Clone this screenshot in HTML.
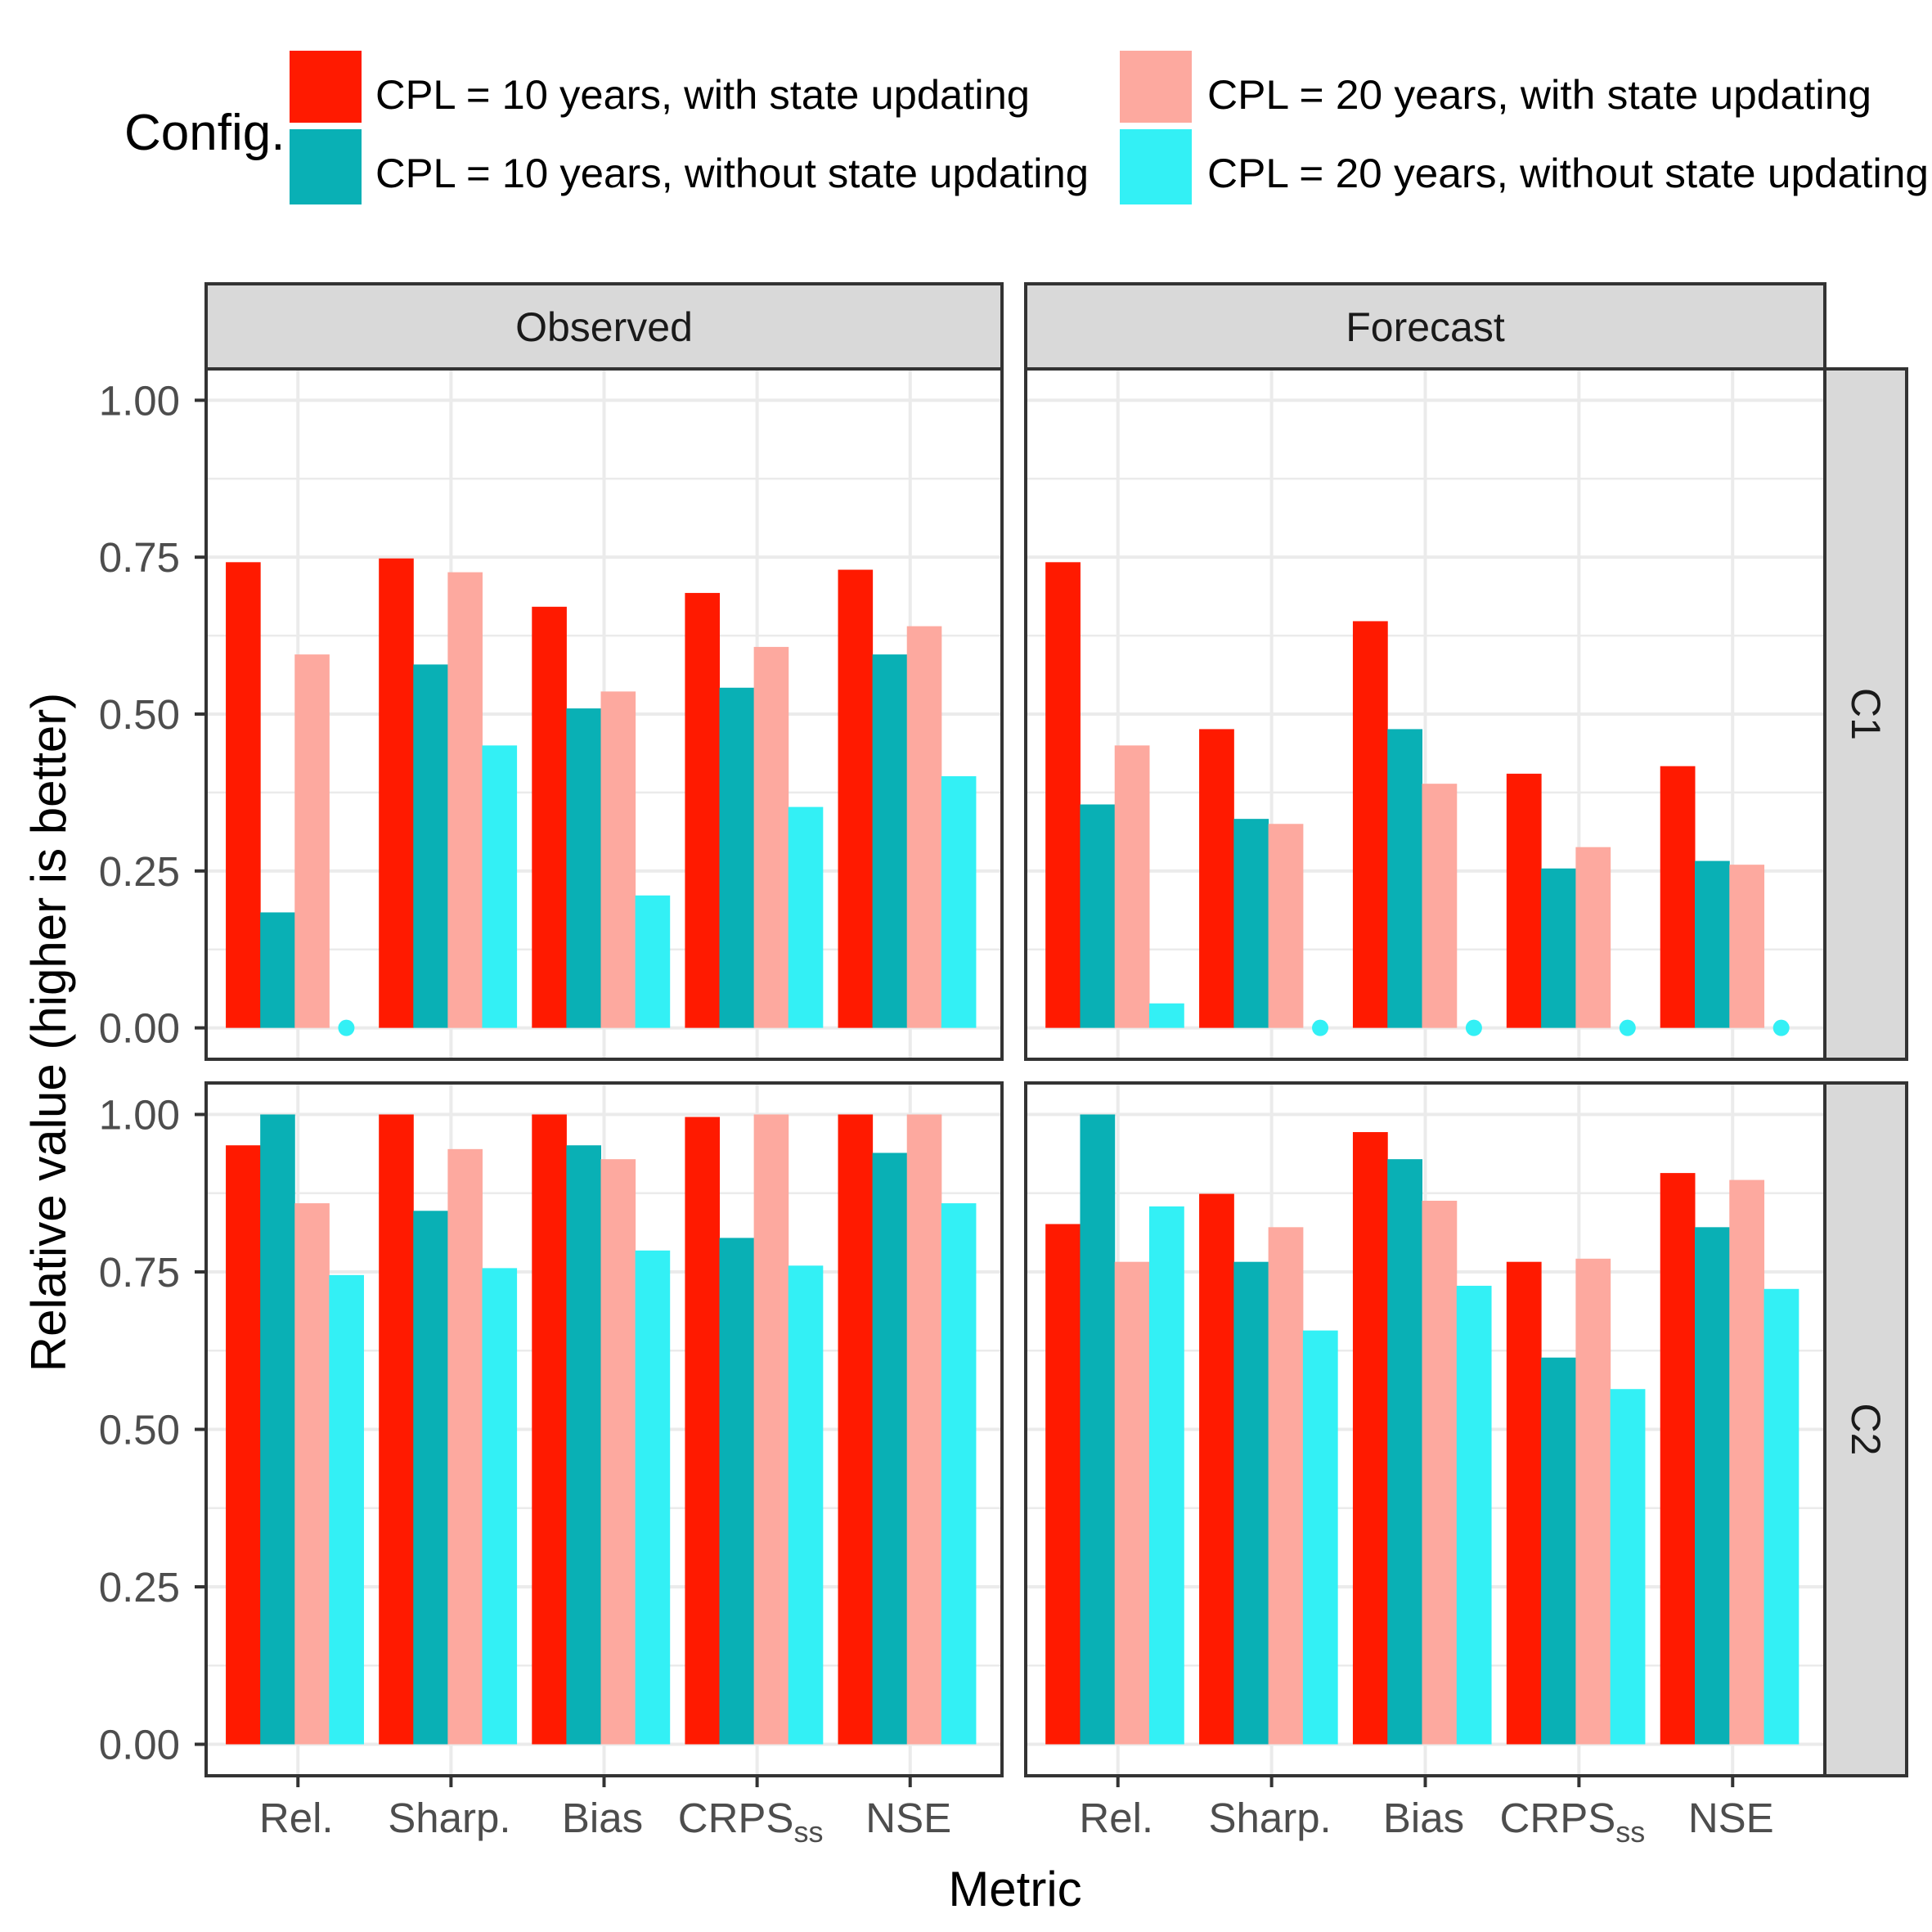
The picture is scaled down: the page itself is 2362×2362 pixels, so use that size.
<!DOCTYPE html>
<html><head><meta charset="utf-8">
<style>html,body{margin:0;padding:0;background:#fff}svg{display:block}text{font-family:"Liberation Sans",sans-serif}</style>
</head><body>
<svg id="chart" xmlns="http://www.w3.org/2000/svg" width="2362" height="2362" viewBox="0 0 2362 2362">
<rect width="2362" height="2362" fill="#fff"/>
<g>
<text x="152" y="183" font-size="62" fill="#000">Config.</text>
<rect x="354" y="62" width="88" height="88" fill="#ff1a00"/>
<rect x="354" y="158" width="88" height="92" fill="#09b0b5"/>
<rect x="1369" y="62" width="88" height="88" fill="#fda99f"/>
<rect x="1369" y="158" width="88" height="92" fill="#33f0f5"/>
<text x="459" y="133" font-size="50" fill="#000" textLength="800" lengthAdjust="spacingAndGlyphs">CPL = 10 years, with state updating</text>
<text x="459" y="229" font-size="50" fill="#000" textLength="872" lengthAdjust="spacingAndGlyphs">CPL = 10 years, without state updating</text>
<text x="1476" y="133" font-size="50" fill="#000" textLength="812" lengthAdjust="spacingAndGlyphs">CPL = 20 years, with state updating</text>
<text x="1476" y="229" font-size="50" fill="#000" textLength="882" lengthAdjust="spacingAndGlyphs">CPL = 20 years, without state updating</text>
</g>
<text transform="translate(80,1262) rotate(-90)" text-anchor="middle" font-size="60" fill="#000">Relative value (higher is better)</text>
<text x="1241" y="2330" text-anchor="middle" font-size="60" fill="#000">Metric</text>
<g id="plots"></g>
</svg>
<script>
const categories = ["Rel.", "Sharp.", "Bias", "CRPS", "NSE"];
const seriesNames = ["CPL10 with", "CPL10 without", "CPL20 with", "CPL20 without"];
const yTicks = [0, 0.25, 0.5, 0.75, 1];
const yTickLabels = ["0.00", "0.25", "0.50", "0.75", "1.00"];
const colNames = ["Observed", "Forecast"];
const rowNames = ["C1", "C2"];
const obsC1_s1 = [0.742, 0.748, 0.671, 0.693, 0.730];
const obsC1_s2 = [0.184, 0.579, 0.509, 0.542, 0.595];
const obsC1_s3 = [0.595, 0.726, 0.536, 0.607, 0.640];
const obsC1_s4 = [0, 0.450, 0.211, 0.352, 0.401];
const fcC1_s1 = [0.742, 0.476, 0.648, 0.405, 0.417];
const fcC1_s2 = [0.356, 0.333, 0.476, 0.254, 0.266];
const fcC1_s3 = [0.450, 0.325, 0.389, 0.288, 0.260];
const fcC1_s4 = [0.039, 0, 0, 0, 0];
const obsC2_s1 = [0.951, 1.0, 1.0, 0.996, 1.0];
const obsC2_s2 = [1.0, 0.847, 0.951, 0.804, 0.939];
const obsC2_s3 = [0.859, 0.945, 0.929, 1.0, 1.0];
const obsC2_s4 = [0.745, 0.756, 0.784, 0.760, 0.859];
const fcC2_s1 = [0.826, 0.874, 0.972, 0.766, 0.907];
const fcC2_s2 = [1.0, 0.766, 0.929, 0.614, 0.821];
const fcC2_s3 = [0.766, 0.821, 0.863, 0.771, 0.896];
const fcC2_s4 = [0.854, 0.657, 0.728, 0.564, 0.723];
const values = [[[obsC1_s1, obsC1_s2, obsC1_s3, obsC1_s4],[fcC1_s1, fcC1_s2, fcC1_s3, fcC1_s4]],
                [[obsC2_s1, obsC2_s2, obsC2_s3, obsC2_s4],[fcC2_s1, fcC2_s2, fcC2_s3, fcC2_s4]]];
const colors = ["#ff1a00", "#09b0b5", "#fda99f", "#33f0f5"];

const NS = "http://www.w3.org/2000/svg";
const root = document.getElementById("plots");
function mk(tag, attrs, parent) {
  const e = document.createElementNS(NS, tag);
  for (const k in attrs) e.setAttribute(k, attrs[k]);
  (parent || root).appendChild(e);
  return e;
}
const panelX = [[252, 1225], [1254, 2231]];
const panelY = [[451, 1295], [1324, 2171]];
function xScale(col, i) { const [a, b] = panelX[col]; return a + (b - a) * (i + 0.6) / 5.2; }
function yScale(row, v) { const [t, b] = panelY[row]; return b - (b - t) * (v + 0.05) / 1.1; }
function bandW(col) { const [a, b] = panelX[col]; return (b - a) / 5.2; }

for (let c = 0; c < 2; c++) {
  const s = mk("rect", {x: panelX[c][0], y: 347, width: panelX[c][1] - panelX[c][0], height: 104, fill: "#d9d9d9", stroke: "#333", "stroke-width": 4});
  
  
  const t = mk("text", {x: (panelX[c][0] + panelX[c][1]) / 2, y: 417, "text-anchor": "middle", "font-size": 50, fill: "#1a1a1a"});
  t.textContent = colNames[c];
  
  
}
for (let r = 0; r < 2; r++) {
  const s = mk("rect", {x: 2231, y: panelY[r][0], width: 100, height: panelY[r][1] - panelY[r][0], fill: "#d9d9d9", stroke: "#333", "stroke-width": 4});
  
  
  const cy = (panelY[r][0] + panelY[r][1]) / 2;
  const t = mk("text", {transform: `translate(2264,${cy}) rotate(90)`, "text-anchor": "middle", "font-size": 50, fill: "#1a1a1a"});
  t.textContent = rowNames[r];
  
  
}

for (let r = 0; r < 2; r++) {
  for (let c = 0; c < 2; c++) {
    const g = mk("g", {});
    
    
    const [x0, x1] = panelX[c], [y0, y1] = panelY[r];
    for (let k = 0; k < yTicks.length - 1; k++) {
      const y = yScale(r, (yTicks[k] + yTicks[k + 1]) / 2);
      const l = mk("line", {x1: x0, x2: x1, y1: y, y2: y, stroke: "#ebebeb", "stroke-width": 2.5}, g);
      
      
    }
    yTicks.forEach(v => {
      const y = yScale(r, v);
      const l = mk("line", {x1: x0, x2: x1, y1: y, y2: y, stroke: "#ebebeb", "stroke-width": 4}, g);
      
      
    });
    categories.forEach((cat, i) => {
      const x = xScale(c, i);
      const l = mk("line", {x1: x, x2: x, y1: y0, y2: y1, stroke: "#ebebeb", "stroke-width": 4}, g);
      
      
    });
    const bw = bandW(c) * 0.9 / 4;
    categories.forEach((cat, i) => {
      const cx = xScale(c, i) - 4;
      for (let s = 0; s < 4; s++) {
        const v = values[r][c][s][i];
        const bx = cx - bw * 2 + s * bw;
        const y0v = yScale(r, 0);
        if (v > 0) {
          const yv = yScale(r, v);
          const b = mk("rect", {x: bx, y: yv, width: bw + 0.5, height: y0v - yv, fill: colors[s]}, g);
          
          
        } else {
          const p = mk("circle", {cx: bx + bw / 2, cy: y0v, r: 10, fill: colors[s]}, g);
          
          
        }
      }
    });
    const border = mk("rect", {x: x0, y: y0, width: x1 - x0, height: y1 - y0, fill: "none", stroke: "#333", "stroke-width": 4}, g);
    
    
    if (c === 0) {
      yTicks.forEach((v, k) => {
        const y = yScale(r, v);
        const tk = mk("line", {x1: x0 - 14, x2: x0, y1: y, y2: y, stroke: "#333", "stroke-width": 4}, g);
        
        
        const t = mk("text", {x: 220, y: y + 18, "text-anchor": "end", "font-size": 51, fill: "#4d4d4d"}, g);
        t.textContent = yTickLabels[k];
        
        
      });
    }
    if (r === 1) {
      categories.forEach((cat, i) => {
        const x = xScale(c, i);
        const tk = mk("line", {x1: x, x2: x, y1: y1, y2: y1 + 14, stroke: "#333", "stroke-width": 4}, g);
        
        
        const t = mk("text", {x: x - 2, y: 2240, "text-anchor": "middle", "font-size": 51, fill: "#4d4d4d"}, g);
        
        
        if (cat === "CRPS") {
          t.setAttribute("x", x - 8);
          const a = document.createElementNS(NS, "tspan"); a.textContent = "CRPS"; t.appendChild(a);
          const b = document.createElementNS(NS, "tspan"); b.textContent = "ss";
          b.setAttribute("font-size", "36"); b.setAttribute("dy", "12"); t.appendChild(b);
        } else t.textContent = cat;
      });
    }
  }
}
</script>
</body></html>
